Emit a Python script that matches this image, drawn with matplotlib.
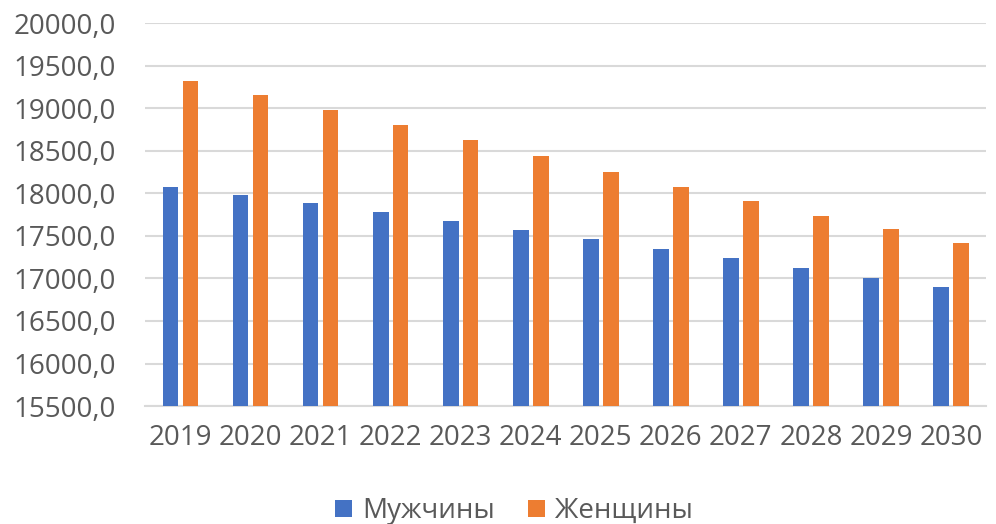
import matplotlib.pyplot as plt
import numpy as np

plt.rcParams['font.family'] = ['Open Sans', 'DejaVu Sans']

years = ['2019', '2020', '2021', '2022', '2023', '2024',
         '2025', '2026', '2027', '2028', '2029', '2030']
men = [18070, 17980, 17883, 17777, 17671, 17567,
       17461, 17347, 17238, 17122, 17008, 16894]
women = [19324, 19151, 18977, 18800, 18621, 18438,
         18254, 18079, 17906, 17734, 17575, 17414]

fig = plt.figure(figsize=(9.96, 5.24), dpi=100)
ax = fig.add_axes([0.146, 0.225, 0.844, 0.731])

x = np.arange(len(years))
w = 0.225
ax.bar(x - 0.142, men, w, color='#4472C4', label='Мужчины', zorder=3)
ax.bar(x + 0.142, women, w, color='#ED7D31', label='Женщины', zorder=3)

ax.set_xlim(-0.5, len(years) - 0.5)
ax.set_ylim(15500, 20000)
ticks = np.arange(15500, 20001, 500)
ax.set_yticks(ticks)
ax.set_yticklabels([f'{t:.1f}'.replace('.', ',') for t in ticks])
ax.set_xticks(x)
ax.set_xticklabels(years)
ax.grid(axis='y', color='#D9D9D9', linewidth=1.5, zorder=0)
for s in ['top', 'right', 'left']:
    ax.spines[s].set_visible(False)
ax.spines['bottom'].set_color('#D9D9D9')
ax.spines['bottom'].set_linewidth(1.5)
ax.tick_params(length=0, labelsize=20, colors='#595959')
ax.tick_params(axis='x', pad=13)
ax.tick_params(axis='y', pad=21)

fig.legend(loc='lower center', ncol=2, frameon=False, fontsize=20,
           bbox_to_anchor=(0.516, -0.05), handlelength=0.62, handleheight=0.6,
           columnspacing=1.2, handletextpad=0.36, labelcolor='#595959')

fig.savefig('out.png', dpi=100)
